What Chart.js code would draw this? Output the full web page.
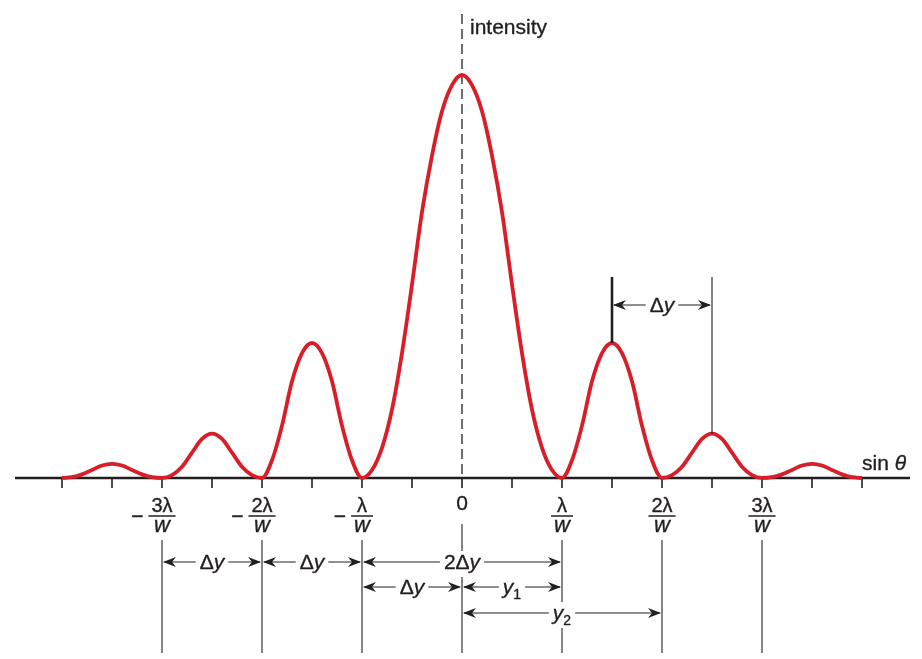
<!DOCTYPE html>
<html>
<head>
<meta charset="utf-8">
<script src="https://cdn.jsdelivr.net/npm/chart.js@4/dist/chart.umd.min.js"></script>
<style>
  html, body { margin: 0; padding: 0; background: #fff; }
  #wrap { width: 922px; height: 659px; position: relative; }
</style>
</head>
<body>
<div id="wrap"><canvas id="mycanvas"></canvas></div>
<script>
// sin(theta), in units of lambda / w
var sinTheta = [
  -4.0, -3.9, -3.8, -3.7, -3.6, -3.5, -3.4, -3.3, -3.2, -3.1,
  -3.0, -2.9, -2.8, -2.7, -2.6, -2.5, -2.4, -2.3, -2.2, -2.1,
  -2.0, -1.9, -1.8, -1.7, -1.6, -1.5, -1.4, -1.3, -1.2, -1.1,
  -1.0, -0.9, -0.8, -0.7, -0.6, -0.5, -0.4, -0.3, -0.2, -0.1,
   0.0,
   0.1,  0.2,  0.3,  0.4,  0.5,  0.6,  0.7,  0.8,  0.9,  1.0,
   1.1,  1.2,  1.3,  1.4,  1.5,  1.6,  1.7,  1.8,  1.9,  2.0,
   2.1,  2.2,  2.3,  2.4,  2.5,  2.6,  2.7,  2.8,  2.9,  3.0,
   3.1,  3.2,  3.3,  3.4,  3.5,  3.6,  3.7,  3.8,  3.9,  4.0
];
// intensity, central maximum = 100
var intensity = [
  0, 0.2, 0.9, 2.0, 3.1, 3.5, 3.1, 2.0, 0.9, 0.2,
  0, 0.7, 2.8, 6.3, 9.7, 11, 9.7, 6.3, 2.8, 0.7,
  0, 4.4, 13, 24, 31, 33.5, 31, 24, 13, 4.4,
  0, 2, 7.5, 17, 31, 48, 66, 80, 91, 97.5,
  100,
  97.5, 91, 80, 66, 48, 31, 17, 7.5, 2, 0,
  4.4, 13, 24, 31, 33.5, 31, 24, 13, 4.4, 0,
  0.7, 2.8, 6.3, 9.7, 11, 9.7, 6.3, 2.8, 0.7, 0,
  0.2, 0.9, 2.0, 3.1, 3.5, 3.1, 2.0, 0.9, 0.2, 0
];
var tickValues = [-4, -3.5, -3, -2.5, -2, -1.5, -1, -0.5, 0, 0.5, 1, 1.5, 2, 2.5, 3, 3.5, 4];
var minima = [-3, -2, -1, 1, 2, 3];
var minimaNumerators = ['3λ', '2λ', 'λ', 'λ', '2λ', '3λ'];
// dimension arrows under the axis: from, to, row, label
var spanFrom = [-3, -2, -1, -1, 0, 0];
var spanTo = [-2, -1, 1, 0, 1, 2];
var spanRow = [0, 0, 0, 1, 1, 2];
var spanLabel = [
  [['Δ', 'n'], ['y', 'i']],
  [['Δ', 'n'], ['y', 'i']],
  [['2Δ', 'n'], ['y', 'i']],
  [['Δ', 'n'], ['y', 'i']],
  [['y', 'i'], ['1', 's']],
  [['y', 'i'], ['2', 's']]
];
// Δy marker between two maxima
var markerFrom = 1.5, markerTo = 2.5;

var FONT = '"Liberation Sans", Arial, sans-serif';
var INK = '#231f20';
var RED = '#d81e28';

function fontOf(style) {
  if (style === 'i') return 'italic 21px ' + FONT;
  if (style === 'w') return 'italic 22px ' + FONT;
  if (style === 's') return '14px ' + FONT;
  if (style === 'f') return '20px ' + FONT;
  return '21px ' + FONT;
}
function seg(ctx, x1, y1, x2, y2) {
  ctx.beginPath(); ctx.moveTo(x1, y1); ctx.lineTo(x2, y2); ctx.stroke();
}
function arrowHead(ctx, x, y, dir) {
  ctx.beginPath();
  ctx.moveTo(x, y);
  ctx.lineTo(x - dir * 13, y - 5);
  ctx.lineTo(x - dir * 9, y);
  ctx.lineTo(x - dir * 13, y + 5);
  ctx.closePath();
  ctx.fill();
}
function richWidth(ctx, parts) {
  var w = 0;
  parts.forEach(function(p) { ctx.font = fontOf(p[1]); w += ctx.measureText(p[0]).width; });
  return w;
}
function rich(ctx, parts, x, base, align, bg) {
  var w = richWidth(ctx, parts);
  var sx = align === 'left' ? x : x - w / 2;
  if (bg) {
    ctx.fillStyle = '#fff';
    ctx.fillRect(sx - 4, base - 18, w + 8, 26);
  }
  ctx.fillStyle = INK;
  ctx.strokeStyle = INK;
  ctx.lineWidth = 0.35;
  ctx.textBaseline = 'alphabetic';
  ctx.textAlign = 'left';
  parts.forEach(function(p) {
    ctx.font = fontOf(p[1]);
    var yy = p[1] === 's' ? base + 5 : base;
    ctx.fillText(p[0], sx, yy);
    ctx.strokeText(p[0], sx, yy);
    sx += ctx.measureText(p[0]).width;
  });
}

var diagram = {
  id: 'diagram',
  beforeDatasetsDraw: function(chart) {
    var ctx = chart.ctx, xs = chart.scales.x, ys = chart.scales.y;
    var y0 = ys.getPixelForValue(0);
    ctx.save();
    ctx.strokeStyle = INK;
    ctx.fillStyle = INK;
    // horizontal axis
    ctx.lineWidth = 2.5;
    seg(ctx, xs.getPixelForValue(-4.47), y0, xs.getPixelForValue(4.48), y0);
    ctx.lineWidth = 1.6;
    tickValues.forEach(function(v) {
      var px = xs.getPixelForValue(v);
      seg(ctx, px, y0, px, y0 + 10);
    });
    // dashed centre line
    var cx = xs.getPixelForValue(0);
    ctx.lineWidth = 1.3;
    ctx.setLineDash([10, 5]);
    seg(ctx, cx, 14, cx, y0);
    ctx.setLineDash([]);
    ctx.restore();
  },
  afterDatasetsDraw: function(chart) {
    var ctx = chart.ctx, xs = chart.scales.x, ys = chart.scales.y;
    ctx.save();
    ctx.strokeStyle = INK;
    ctx.fillStyle = INK;

    // axis titles
    rich(ctx, [['intensity', 'n']], xs.getPixelForValue(0) + 8, 34, 'left');
    rich(ctx, [['sin ', 'n'], ['θ', 'i']], 862, 470, 'left');

    // "0" label and minima labels
    rich(ctx, [['0', 'n']], xs.getPixelForValue(0), 510, 'center');
    minima.forEach(function(v, i) {
      var px = xs.getPixelForValue(v);
      var num = [[minimaNumerators[i], 'f']];
      var den = [['w', 'w']];
      var bw = Math.max(richWidth(ctx, num), richWidth(ctx, den)) + 6;
      rich(ctx, num, px, 512, 'center');
      rich(ctx, den, px, 532, 'center');
      ctx.strokeStyle = INK;
      ctx.lineWidth = 1.5;
      seg(ctx, px - bw / 2, 516, px + bw / 2, 516);
      if (v < 0) {
        ctx.font = fontOf('n');
        var mw = ctx.measureText('−').width;
        rich(ctx, [['−', 'n']], px - bw / 2 - 5 - mw / 2, 523, 'center');
      }
    });

    // vertical reference lines below the axis
    ctx.strokeStyle = INK;
    ctx.lineWidth = 1.1;
    minima.forEach(function(v) {
      var px = xs.getPixelForValue(v);
      seg(ctx, px, 540, px, 653);
    });
    seg(ctx, xs.getPixelForValue(0), 524, xs.getPixelForValue(0), 653);

    // dimension arrows
    var rowY = [562, 587, 613];
    spanFrom.forEach(function(f, i) {
      var a = xs.getPixelForValue(f), b = xs.getPixelForValue(spanTo[i]);
      var yy = rowY[spanRow[i]];
      ctx.lineWidth = 1.1;
      seg(ctx, a + 2, yy, b - 2, yy);
      arrowHead(ctx, a + 1, yy, -1);
      arrowHead(ctx, b - 1, yy, 1);
    });
    spanFrom.forEach(function(f, i) {
      var a = xs.getPixelForValue(f), b = xs.getPixelForValue(spanTo[i]);
      var yy = rowY[spanRow[i]];
      rich(ctx, spanLabel[i], (a + b) / 2, yy + 7, 'center', true);
    });

    // Δy between neighbouring maxima
    var ma = xs.getPixelForValue(markerFrom), mb = xs.getPixelForValue(markerTo);
    var pa = ys.getPixelForValue(intensity[sinTheta.indexOf(markerFrom)]);
    var pb = ys.getPixelForValue(intensity[sinTheta.indexOf(markerTo)]);
    ctx.strokeStyle = INK;
    ctx.lineWidth = 2.6;
    seg(ctx, ma, 277, ma, pa);
    ctx.lineWidth = 1.1;
    seg(ctx, mb, 277, mb, pb);
    seg(ctx, ma + 2, 305, mb - 2, 305);
    arrowHead(ctx, ma + 1, 305, -1);
    arrowHead(ctx, mb - 1, 305, 1);
    rich(ctx, [['Δ', 'n'], ['y', 'i']], (ma + mb) / 2, 312, 'center', true);
    ctx.restore();
  }
};

var points = sinTheta.map(function(s, i) { return { x: s, y: intensity[i] }; });

new Chart(document.getElementById('mycanvas'), {
  type: 'line',
  data: {
    datasets: [{
      label: 'intensity',
      data: points,
      borderColor: RED,
      borderWidth: 3.8,
      pointRadius: 0,
      fill: false,
      cubicInterpolationMode: 'monotone'
    }]
  },
  options: {
    responsive: true,
    maintainAspectRatio: false,
    animation: false,
    layout: { padding: 0 },
    plugins: { legend: { display: false }, tooltip: { enabled: false } },
    scales: {
      x: { type: 'linear', min: -4.62, max: 4.60, display: false },
      y: { min: -44.91, max: 118.61, display: false }
    }
  },
  plugins: [diagram]
});
</script>
</body>
</html>
